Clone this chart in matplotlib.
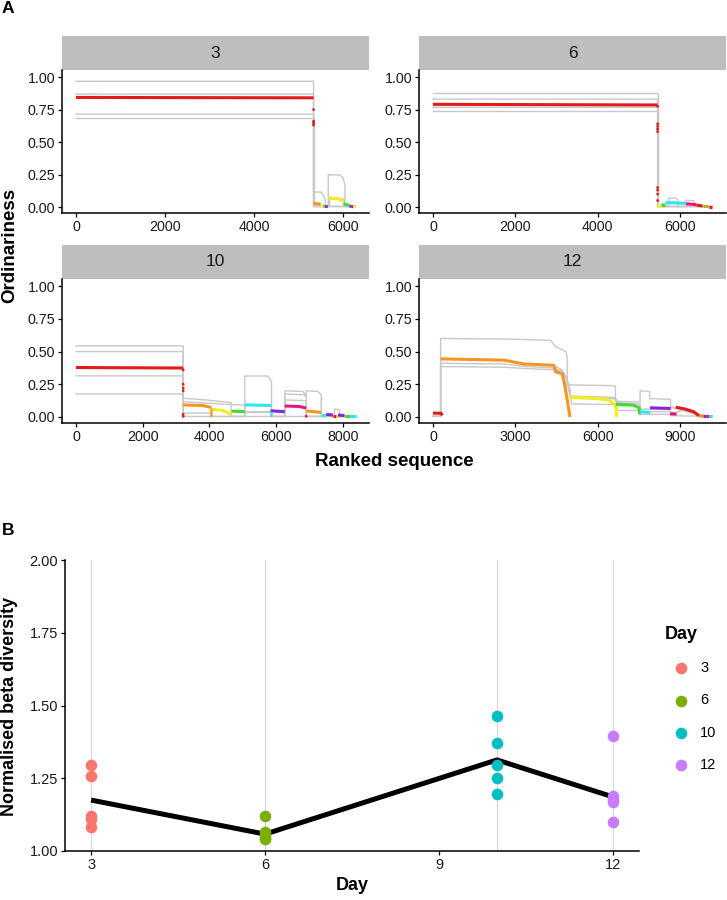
import numpy as np
import matplotlib
matplotlib.use("Agg")
import matplotlib.pyplot as plt

plt.rcParams["font.family"] = ["Liberation Sans", "DejaVu Sans"]

# ---------------- data: panel A (ordinariness vs ranked sequence) ----------------
RED, ORA, YEL, GRN, CYA, PUR, MAG = ("#E31A1C", "#F39423", "#F5EE1B", "#45D83A",
                                     "#2EE6EE", "#8B22E0", "#E8147E")
GREY = "#C8C8C8"

# day 3
d3_gray_x = [[0, 5340, 5340, 5510, 5560, 5600, 5600, 6270],
             [0, 5340, 5340, 5670, 5670, 5930, 6000, 6045, 6045, 6270],
             [0, 5340, 5340, 5700, 5700, 6030, 6030, 6270],
             [0, 5340, 5340, 6270]]
d3_gray_y = [[0.967, 0.967, 0.115, 0.115, 0.09, 0.055, 0.004, 0.004],
             [0.869, 0.869, 0.004, 0.004, 0.247, 0.247, 0.225, 0.17, 0.004, 0.004],
             [0.715, 0.715, 0.004, 0.004, 0.075, 0.06, 0.004, 0.004],
             [0.687, 0.687, 0.004, 0.004]]
d3_seg_x = [[0, 5340], [5340, 5500], [5510, 5560], [5560, 5600], [5600, 5660],
            [5680, 5900, 6010], [6010, 6150], [6150, 6200], [6200, 6230], [6230, 6270]]
d3_seg_y = [[0.843, 0.840], [0.028, 0.022], [0.012, 0.008], [0.008, 0.005], [0.005, 0.003],
            [0.067, 0.063, 0.045], [0.025, 0.012], [0.006, 0.004], [0.004, 0.003], [0.003, 0.002]]
d3_seg_c = [RED, ORA, YEL, GRN, PUR, YEL, GRN, PUR, MAG, YEL]
d3_drop_x = [5340, 5340, 5340, 5340]
d3_drop_y = [0.75, 0.66, 0.645, 0.63]
d3_drop_c = [RED, RED, RED, RED]

# day 6
d6_gray_x = [[0, 5457, 5457, 5540, 5540, 5660, 5660, 6780],
             [0, 5457, 5457, 5730, 5730, 5900, 5950, 5950, 6780],
             [0, 5457, 5457, 6150, 6150, 6320, 6340, 6340, 6780],
             [0, 5457, 5457, 6780]]
d6_gray_y = [[0.876, 0.876, 0.004, 0.004, 0.03, 0.03, 0.004, 0.004],
             [0.83, 0.83, 0.004, 0.004, 0.07, 0.07, 0.055, 0.004, 0.004],
             [0.767, 0.767, 0.004, 0.004, 0.05, 0.05, 0.04, 0.004, 0.004],
             [0.736, 0.736, 0.004, 0.004]]
d6_seg_x = [[0, 5457], [5457, 5560], [5560, 5650], [5650, 6150], [6150, 6400],
            [6400, 6550], [6550, 6620], [6620, 6700], [6700, 6780]]
d6_seg_y = [[0.79, 0.785], [0.008, 0.004], [0.012, 0.01], [0.035, 0.028], [0.025, 0.018],
            [0.015, 0.008], [0.006, 0.006], [0.005, 0.004], [0.003, 0.003]]
d6_seg_c = [RED, YEL, GRN, CYA, MAG, RED, GRN, ORA, RED]
d6_drop_x = [5457] * 9
d6_drop_y = [0.775, 0.64, 0.62, 0.6, 0.58, 0.15, 0.13, 0.10, 0.05]
d6_drop_c = [RED] * 9

# day 10
d10_gray_x = [[0, 3213, 3213, 3900, 4650, 4650, 5060, 5060, 5750, 5860, 5860, 8400],
              [0, 3213, 3213, 4650, 5060, 5060, 6260, 6260, 6800, 6900, 6900, 7250, 7350, 7350, 8400],
              [0, 3213, 3213, 4060, 4060, 5060, 5060, 5860, 5860, 6260, 6260, 6850, 6900, 6900,
               7750, 7750, 7880, 7900, 7900, 8400],
              [0, 3213, 3213, 6260, 6260, 6900, 6900, 8400]]
d10_gray_y = [[0.543, 0.543, 0.143, 0.13, 0.11, 0.004, 0.004, 0.313, 0.313, 0.27, 0.004, 0.004],
              [0.5, 0.5, 0.117, 0.095, 0.09, 0.04, 0.04, 0.2, 0.195, 0.16, 0.2, 0.195, 0.17, 0.004, 0.004],
              [0.314, 0.314, 0.03, 0.03, 0.004, 0.004, 0.035, 0.035, 0.004, 0.004, 0.175, 0.17, 0.15, 0.004,
               0.004, 0.06, 0.055, 0.04, 0.004, 0.004],
              [0.176, 0.176, 0.004, 0.004, 0.13, 0.125, 0.004, 0.004]]
d10_seg_x = [[0, 3213], [3213, 3800, 4060], [4060, 4400, 4660], [4660, 5060], [5060, 5860],
             [5830, 6260], [6260, 6700, 6900], [6900, 7350], [7350, 7500], [7500, 7700],
             [7700, 7800], [7800, 7850], [7850, 8050], [8050, 8200], [8200, 8400]]
d10_seg_y = [[0.378, 0.374], [0.092, 0.088, 0.072], [0.058, 0.05, 0.02], [0.045, 0.04], [0.092, 0.088],
             [0.048, 0.04], [0.084, 0.08, 0.068], [0.046, 0.035], [0.012, 0.012], [0.02, 0.015],
             [0.01, 0.01], [0.01, 0.01], [0.015, 0.01], [0.008, 0.008], [0.005, 0.005]]
d10_seg_c = [RED, ORA, YEL, GRN, CYA, PUR, MAG, ORA, CYA, PUR, RED, YEL, PUR, GRN, CYA]
d10_drop_x = [3213, 3213, 3213, 3213, 3213, 3213, 4060, 4060, 4060, 5860, 5860, 6900]
d10_drop_y = [0.36, 0.25, 0.22, 0.2, 0.02, 0.005, 0.05, 0.03, 0.01, 0.03, 0.01, 0.006]
d10_drop_c = [RED, RED, RED, RED, RED, RED, ORA, ORA, ORA, CYA, CYA, RED]

# day 12
d12_gray_x = [[0, 280, 280, 2830, 4300, 4450, 4850, 4900, 4900, 6480, 6650, 6650, 7510, 7550, 7550,
               7900, 7900, 8660, 8660, 9000, 9700, 10180],
              [0, 280, 280, 2600, 3400, 4400, 4700, 4800, 4900, 5000, 5000, 6600, 6700, 6700, 7550, 7550,
               8650, 8650, 10180],
              [0, 280, 280, 2600, 3400, 4500, 4750, 4950, 5050, 5050, 6700, 6700, 7500, 7550, 7550,
               8650, 9200, 9700, 10180],
              [0, 280, 280, 2600, 3400, 4400, 4700, 4850, 4950, 5000, 6600, 6700, 6700, 7500, 7550,
               7550, 8650, 8650, 9700, 10180]]
d12_gray_y = [[0.005, 0.005, 0.6, 0.595, 0.585, 0.54, 0.5, 0.45, 0.245, 0.24, 0.235, 0.12, 0.115,
               0.115, 0.2, 0.195, 0.14, 0.135, 0.07, 0.065, 0.02, 0.004],
              [0.005, 0.005, 0.445, 0.435, 0.405, 0.395, 0.36, 0.33, 0.28, 0.2, 0.16, 0.15, 0.13,
               0.11, 0.1, 0.04, 0.04, 0.01, 0.004],
              [0.005, 0.005, 0.385, 0.38, 0.37, 0.36, 0.34, 0.25, 0.1, 0.1, 0.095, 0.05, 0.05, 0.05,
               0.02, 0.02, 0.06, 0.01, 0.004],
              [0.005, 0.005, 0.41, 0.405, 0.385, 0.375, 0.35, 0.3, 0.2, 0.15, 0.14, 0.12, 0.1, 0.09,
               0.08, 0.06, 0.06, 0.08, 0.01, 0.004]]
d12_seg_x = [[0, 300, 340], [280, 2600, 3300, 4400, 4470, 4710, 4800, 4994],
             [4960, 5500, 6000, 6400, 6600, 6680, 6690], [6660, 7300, 7510, 7530], [7550, 7930],
             [7910, 8660], [8640, 8880], [8850, 9200, 9500, 9700], [9700, 9850], [9850, 9950],
             [9950, 10050], [10050, 10180]]
d12_seg_y = [[0.03, 0.028, 0.012], [0.444, 0.434, 0.405, 0.395, 0.345, 0.33, 0.25, 0.0],
             [0.152, 0.145, 0.14, 0.13, 0.1, 0.06, 0.0], [0.097, 0.09, 0.07, 0.02], [0.04, 0.035],
             [0.07, 0.065], [0.025, 0.022], [0.075, 0.06, 0.04, 0.01], [0.008, 0.006], [0.005, 0.005],
             [0.004, 0.004], [0.004, 0.004]]
d12_seg_c = [RED, ORA, YEL, GRN, CYA, PUR, MAG, RED, ORA, PUR, MAG, CYA]
d12_drop_x = []
d12_drop_y = []
d12_drop_c = []

facet_days = ["3", "6", "10", "12"]
facet_xlim = [(-314, 6586), (-339, 7118), (-418, 8782), (-508, 10680)]
facet_xticks = [[0, 2000, 4000, 6000], [0, 2000, 4000, 6000],
                [0, 2000, 4000, 6000, 8000], [0, 3000, 6000, 9000]]

# ---------------- data: panel B (normalised beta diversity) ----------------
days = [3, 6, 10, 12]
day3_vals = [1.295, 1.257, 1.12, 1.11, 1.083]
day6_vals = [1.12, 1.065, 1.055, 1.045, 1.04]
day10_vals = [1.464, 1.37, 1.296, 1.25, 1.196]
day12_vals = [1.395, 1.19, 1.18, 1.168, 1.098]
mean_vals = [1.175, 1.058, 1.313, 1.186]
day_colors = ["#F8766D", "#7CAE00", "#00BFC4", "#C77CFF"]

# ---------------- figure ----------------
W, H = 727, 900
fig = plt.figure(figsize=(W / 100, H / 100), dpi=100)


def px_axes(x0, y0, x1, y1):
    return fig.add_axes([x0 / W, 1 - y1 / H, (x1 - x0) / W, (y1 - y0) / H])


def style_axes(ax, tsize):
    for s in ["top", "right"]:
        ax.spines[s].set_visible(False)
    for s in ["left", "bottom"]:
        ax.spines[s].set_linewidth(1.1)
    ax.tick_params(length=3, width=0.9, labelsize=tsize, labelcolor="#1a1a1a", pad=2)


facets = [
    (d3_gray_x, d3_gray_y, d3_seg_x, d3_seg_y, d3_seg_c, d3_drop_x, d3_drop_y, d3_drop_c),
    (d6_gray_x, d6_gray_y, d6_seg_x, d6_seg_y, d6_seg_c, d6_drop_x, d6_drop_y, d6_drop_c),
    (d10_gray_x, d10_gray_y, d10_seg_x, d10_seg_y, d10_seg_c, d10_drop_x, d10_drop_y, d10_drop_c),
    (d12_gray_x, d12_gray_y, d12_seg_x, d12_seg_y, d12_seg_c, d12_drop_x, d12_drop_y, d12_drop_c),
]
cols = [(62, 369), (419, 726)]
rows = [(36, 70, 213), (245, 279, 423)]

for i, (gx, gy, sx, sy, sc, dx, dy, dc) in enumerate(facets):
    c0, c1 = cols[i % 2]
    s0, p0, p1 = rows[i // 2]
    sax = px_axes(c0, s0, c1, p0)
    sax.set_facecolor("#BEBEBE")
    sax.set_xticks([])
    sax.set_yticks([])
    for s in sax.spines.values():
        s.set_visible(False)
    sax.text(0.5, 0.5, facet_days[i], ha="center", va="center", fontsize=12.5, color="#1a1a1a",
             transform=sax.transAxes)

    ax = px_axes(c0, p0, c1, p1)
    for x, y in zip(gx, gy):
        ax.plot(x, y, color=GREY, lw=1.0, zorder=1)
    for x, y, c in zip(sx, sy, sc):
        ax.plot(x, y, color=c, lw=2.2, solid_capstyle="butt", zorder=3)
    if dx:
        ax.scatter(dx, dy, s=4, c=dc, zorder=3, linewidths=0)
    ax.set_xlim(*facet_xlim[i])
    ax.set_ylim(-0.046, 1.054)
    ax.set_xticks(facet_xticks[i])
    ax.set_yticks([0, 0.25, 0.5, 0.75, 1.0])
    ax.set_yticklabels(["0.00", "0.25", "0.50", "0.75", "1.00"])
    style_axes(ax, 10.3)

fig.text(8 / W, 1 - 8.5 / H, "A", fontsize=12.5, fontweight="bold", ha="center", va="center")
fig.text(10 / W, 1 - 245 / H, "Ordinariness", fontsize=13.5, fontweight="bold", rotation=90,
         ha="center", va="center")
fig.text(394 / W, 1 - 462 / H, "Ranked sequence", fontsize=13.5, fontweight="bold",
         ha="center", va="center")

# panel B
fig.text(8 / W, 1 - 530.5 / H, "B", fontsize=12.5, fontweight="bold", ha="center", va="center")
bx = px_axes(65, 560, 639, 851)
for d in days:
    bx.axvline(d, color="#D9D9D9", lw=0.9, zorder=0)
bx.plot(days, mean_vals, color="black", lw=3.6, zorder=2, solid_capstyle="butt")
handles = []
for d, vals, col in zip(days, [day3_vals, day6_vals, day10_vals, day12_vals], day_colors):
    h = bx.scatter([d] * len(vals), vals, s=70, color=col, zorder=3, linewidths=0)
    handles.append(h)
bx.set_xlim(2.55, 12.45)
bx.set_ylim(1.0, 2.0)
bx.set_xticks([3, 6, 9, 12])
bx.set_yticks([1.0, 1.25, 1.5, 1.75, 2.0])
bx.set_yticklabels(["1.00", "1.25", "1.50", "1.75", "2.00"])
style_axes(bx, 10.5)

fig.text(10 / W, 1 - 706 / H, "Normalised beta diversity", fontsize=13, fontweight="bold",
         rotation=90, ha="center", va="center")
fig.text(352 / W, 1 - 886 / H, "Day", fontsize=13, fontweight="bold", ha="center", va="center")

leg = fig.legend(handles, ["3", "6", "10", "12"], title="Day", loc="upper left",
                 bbox_to_anchor=(665 / W, 1 - 626 / H), frameon=False, fontsize=10.5,
                 labelspacing=1.25, handletextpad=0.2, borderpad=0, borderaxespad=0,
                 handlelength=2.2, title_fontproperties={"weight": "bold", "size": 13})
leg._legend_box.align = "left"

fig.savefig("out.png", dpi=100)
